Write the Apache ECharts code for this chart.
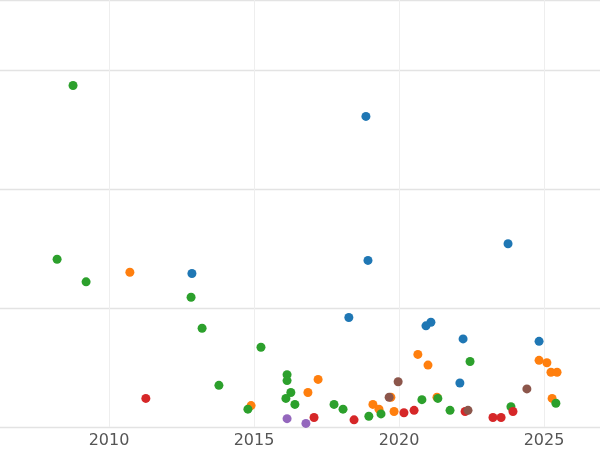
<!DOCTYPE html>
<html lang="en">
<head>
<meta charset="UTF-8">
<title>Scatter</title>
<script src="https://cdn.jsdelivr.net/npm/echarts@6/dist/echarts.min.js"></script>
</head>
<body style="margin:0">
<div id="main" style="width:600px;height:450px;"></div>
<script type="text/javascript">
var green = [[2008.76,2.87],[2008.21,1.41],[2009.21,1.22],[2012.83,1.09],[2013.21,0.83],[2013.79,0.35],
    [2014.79,0.15],[2015.24,0.67],[2016.14,0.44],[2016.14,0.39],[2016.27,0.29],[2016.10,0.24],[2016.41,0.19],
    [2017.76,0.19],[2018.07,0.15],[2018.96,0.09],[2019.38,0.11],[2020.79,0.23],[2021.34,0.24],[2021.76,0.14],
    [2022.45,0.55],[2023.86,0.17],[2025.41,0.20]];
var blue = [[2018.86,2.61],[2018.93,1.40],[2012.86,1.29],[2023.76,1.54],[2018.27,0.92],[2021.10,0.88],
    [2020.93,0.85],[2022.21,0.74],[2024.83,0.72],[2022.10,0.37]];
var orange = [[2010.72,1.30],[2014.90,0.18],[2016.86,0.29],[2017.21,0.40],[2019.10,0.19],[2019.31,0.15],
    [2019.72,0.25],[2019.83,0.13],[2020.65,0.61],[2021.00,0.52],[2021.31,0.25],[2024.83,0.56],[2025.10,0.54],
    [2025.24,0.46],[2025.45,0.46],[2025.28,0.24]];
var red = [[2011.27,0.24],[2017.07,0.08],[2018.45,0.06],[2020.17,0.12],[2020.52,0.14],[2022.28,0.13],
    [2023.24,0.08],[2023.52,0.08],[2023.93,0.13]];
var purple = [[2016.14,0.07],[2016.79,0.03]];
var brown = [[2019.66,0.25],[2019.97,0.38],[2022.38,0.14],[2024.41,0.32]];

var groups = [
    {data: blue, color: '#1f77b4'},
    {data: orange, color: '#ff7f0e'},
    {data: green, color: '#2ca02c'},
    {data: red, color: '#d62728'},
    {data: purple, color: '#9467bd'},
    {data: brown, color: '#8c564b'}
];

var myChart = echarts.init(document.getElementById('main'));
var option = {
    animation: false,
    grid: {left: -36, right: -2, top: 0, bottom: 23, containLabel: false, outerBoundsMode: 'none'},
    xAxis: {
        type: 'value', min: 2005, max: 2027, interval: 5,
        axisLine: {show: false}, axisTick: {show: false},
        axisLabel: {color: '#555', fontSize: 16, fontFamily: 'DejaVu Sans', margin: 6,
            formatter: function (v) { return v % 5 === 0 && v > 2005 ? String(v) : ''; }},
        splitLine: {lineStyle: {color: '#eeeeee'}}
    },
    yAxis: {
        type: 'value', min: 0, max: 3.588, interval: 1,
        axisLine: {show: false}, axisTick: {show: false}, axisLabel: {show: false},
        splitLine: {lineStyle: {color: '#e3e3e3', width: 1.3}}
    },
    series: groups.map(function (g) {
        return {
            type: 'scatter', data: g.data, symbolSize: 9,
            itemStyle: {color: g.color, opacity: 1}
        };
    })
};
myChart.setOption(option);
</script>
</body>
</html>
